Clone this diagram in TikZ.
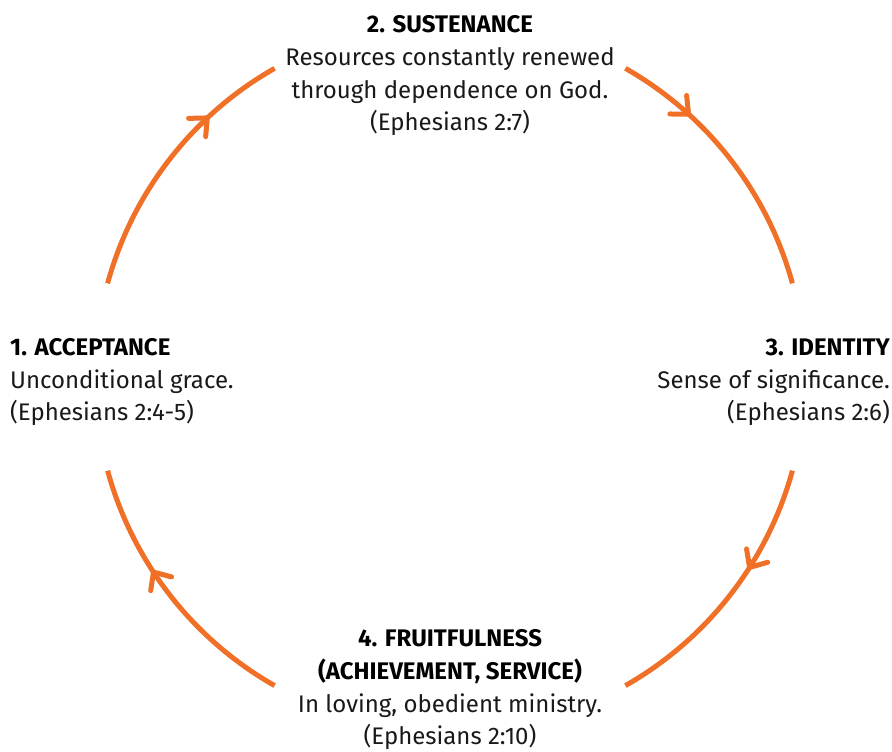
\documentclass[tikz,border=0pt]{standalone}
\usepackage{fontspec}
\setmainfont{Fira Sans}
\usetikzlibrary{decorations.markings}
\definecolor{cycorange}{RGB}{240,112,40}
\definecolor{bodytext}{RGB}{25,25,25}
\tikzset{
  cyclearc/.style={draw=cycorange, line width=5pt, line cap=butt},
  midarrow/.style={postaction={decorate, decoration={markings,
      mark=at position #1 with {\draw[cycorange, line width=5pt, line cap=round, line join=round] (-14pt,12.5pt) -- (0,0) -- (-14pt,-12.5pt);}}}},
  txt/.style={inner sep=0pt, text=bodytext, font=\fontsize{24}{32.8}\selectfont},
}
\begin{document}
\begin{tikzpicture}[x=1pt,y=1pt]
\useasboundingbox (0,0) rectangle (892,752);
\coordinate (c) at (450,375);
% arcs
\path (c) ++(164.7:355) coordinate (a1s);
\path (c) ++(60.4:355) coordinate (a2s);
\path (c) ++(-15.3:355) coordinate (a3s);
\path (c) ++(-119.6:355) coordinate (a4s);
\draw[cyclearc, midarrow=0.70] (a1s) arc[start angle=164.7, end angle=119.6, radius=355];
\draw[cyclearc, midarrow=0.28] (a2s) arc[start angle=60.4, end angle=15.3, radius=355];
\draw[cyclearc, midarrow=0.38] (a3s) arc[start angle=-15.3, end angle=-60.4, radius=355];
\draw[cyclearc, midarrow=0.60] (a4s) arc[start angle=-119.6, end angle=-164.7, radius=355];
% texts
\node[txt, anchor=base, align=center] (n2) at (450,752-131)
  {\textbf{\color{black}2. SUSTENANCE}\\Resources constantly renewed\\through dependence on God.\\(Ephesians 2:7)};
\node[txt, anchor=base west, align=left] (n1) at (10,752-421)
  {\textbf{\color{black}1. ACCEPTANCE}\\Unconditional grace.\\(Ephesians 2:4-5)};
\node[txt, anchor=base east, align=right] (n3) at (890,752-421)
  {\textbf{\color{black}3. IDENTITY}\\Sense of significance.\\(Ephesians 2:6)};
\node[txt, anchor=base, align=center] (n4) at (450,752-745)
  {\textbf{\color{black}4. FRUITFULNESS}\\\textbf{\color{black}(ACHIEVEMENT, SERVICE)}\\In loving, obedient ministry.\\(Ephesians 2:10)};
\end{tikzpicture}
\end{document}
